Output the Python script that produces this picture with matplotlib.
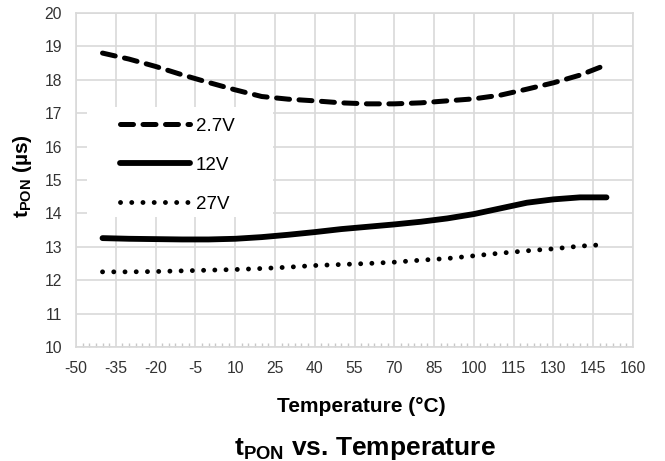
import matplotlib
matplotlib.use("Agg")
import matplotlib.pyplot as plt
from matplotlib.patches import Rectangle

# temperature (°C) and t_PON (µs)
temp = [-40, -30, -20, -10, 0, 10, 20, 30, 40, 50,
        60, 70, 80, 90, 100, 110, 120, 130, 140, 150]
t_2v7 = [18.80, 18.62, 18.40, 18.15, 17.92, 17.70, 17.50, 17.42, 17.37, 17.31,
         17.28, 17.28, 17.31, 17.37, 17.43, 17.54, 17.72, 17.91, 18.14, 18.45]
t_12v = [13.26, 13.24, 13.23, 13.22, 13.22, 13.24, 13.29, 13.36, 13.44, 13.53,
         13.60, 13.67, 13.75, 13.85, 13.98, 14.15, 14.32, 14.42, 14.48, 14.48]
t_27v = [12.25, 12.25, 12.26, 12.28, 12.30, 12.32, 12.35, 12.39, 12.44, 12.47,
         12.50, 12.54, 12.60, 12.65, 12.73, 12.81, 12.88, 12.94, 13.02, 13.07]
labels = ["2.7V", "12V", "27V"]
xticks = list(range(-50, 161, 15))
yticks = list(range(10, 21))

plt.rcParams.update({
    "font.family": ["Liberation Sans", "DejaVu Sans"],
    "mathtext.fontset": "custom",
    "mathtext.rm": "Liberation Sans",
    "mathtext.bf": "Liberation Sans:bold",
    "axes.unicode_minus": False,
})
GRID = "#d9d9d9"

fig = plt.figure(figsize=(6.65, 4.61), dpi=100)
ax = fig.add_axes([76 / 665, 1 - 347 / 461, 557 / 665, 334 / 461])

ax.plot(temp, t_2v7, color="black", lw=3.6, ls=(0, (2.6, 1.9)),
        dash_capstyle="round", solid_capstyle="round", label=labels[0], zorder=3)
ax.plot(temp, t_12v, color="black", lw=4.2, solid_capstyle="round",
        label=labels[1], zorder=3)
ax.plot(temp, t_27v, color="black", lw=3.5, ls=(0, (0.01, 2.3)),
        dash_capstyle="round", label=labels[2], zorder=3)

ax.set_xlim(-50, 160)
ax.set_ylim(10, 20)
ax.set_xticks(xticks)
ax.set_yticks(yticks)
ax.set_xticks([v / 2 for v in range(-100, 321, 5)], minor=True)
ax.grid(True, which="major", color=GRID, lw=1.2, zorder=0)
ax.set_axisbelow(True)
for s in ax.spines.values():
    s.set_color(GRID)
    s.set_linewidth(1.2)
ax.tick_params(axis="both", which="major", length=0, labelsize=11.3, pad=10,
               labelcolor="#333333")
ax.tick_params(axis="x", which="minor", direction="in", length=3, width=1,
               color="#c8c8c8")

# white legend area over the grid
ax.add_patch(Rectangle((11 / 557, (347 - 217) / 334), 186 / 557, 110 / 334,
                       transform=ax.transAxes, facecolor="white",
                       edgecolor="none", zorder=1))
ax.legend(loc="upper left", bbox_to_anchor=(44 / 557, (347 - 117.5) / 334),
          frameon=False, fontsize=13.5, handlelength=3.75, handletextpad=0.3,
          labelspacing=1.17, borderpad=0, borderaxespad=0)

fig.text(23 / 665, 1 - 176 / 461, r"$\mathbf{t_{PON}}$ (µs)", rotation=90,
         ha="center", va="center", fontsize=15, fontweight="bold")
fig.text(361 / 665, 1 - 412 / 461, "Temperature (°C)", ha="center",
         va="baseline", fontsize=15, fontweight="bold")
fig.text(365 / 665, 1 - 455 / 461, r"$\mathbf{t_{PON}}$ vs. Temperature",
         ha="center", va="baseline", fontsize=19, fontweight="bold")

fig.savefig("out.png", dpi=100)
